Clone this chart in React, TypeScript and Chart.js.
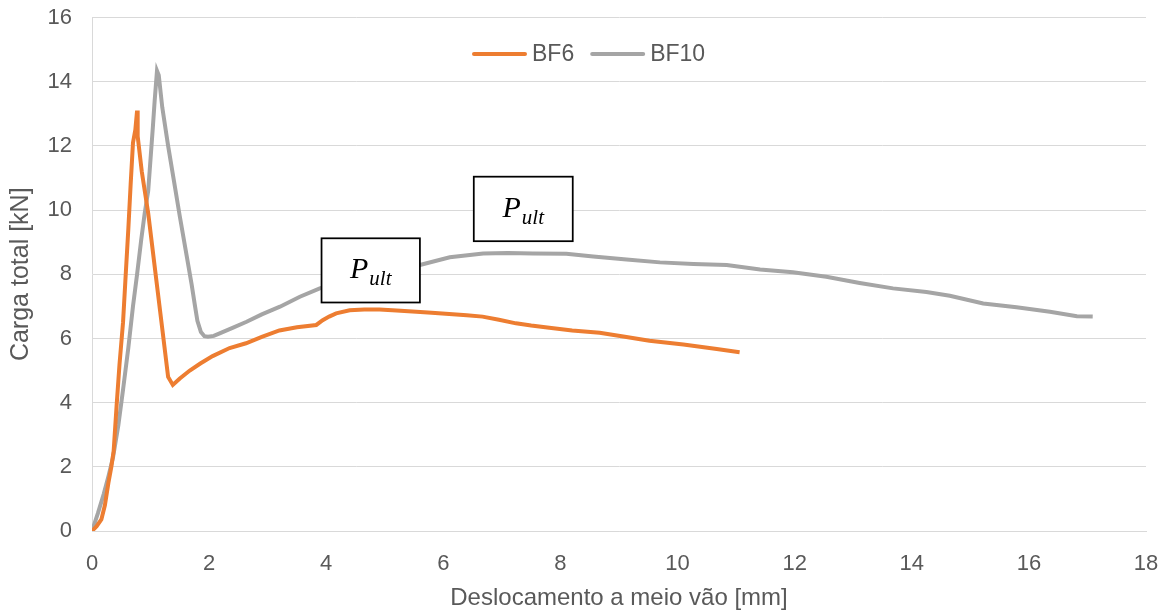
import React, { useEffect, useRef } from "react";
import { Chart, registerables } from "chart.js";

Chart.register(...registerables);

// ---- Data ----
const seriesNames = ["BF6", "BF10"];
const seriesColors = ["#ED7D31", "#A5A5A5"];

const bf6X = [
  0, 0.08, 0.16, 0.22, 0.28, 0.33, 0.37, 0.42, 0.47, 0.53, 0.57, 0.62, 0.66, 0.7, 0.74, 0.77, 0.78,
  0.85, 0.96, 1.1, 1.2, 1.3, 1.38, 1.5, 1.67, 1.85, 2.06, 2.35, 2.63, 2.9, 3.2, 3.5, 3.83, 3.94,
  4.05, 4.17, 4.4, 4.65, 4.91, 5.2, 5.54, 5.8, 6.1, 6.4, 6.67, 6.95, 7.24, 7.5, 7.81, 8.2, 8.67,
  9.1, 9.52, 10.1, 10.67, 11.06,
];
const bf6Y = [
  0, 0.15, 0.36, 0.8, 1.5, 2.0, 2.5, 3.9, 5.2, 6.5, 7.8, 9.4, 10.8, 12.1, 12.5, 13.1, 12.3,
  11.2, 9.9, 7.8, 6.3, 4.8, 4.55, 4.75, 5.0, 5.22, 5.45, 5.7, 5.85, 6.05, 6.25, 6.35, 6.42, 6.57,
  6.68, 6.78, 6.88, 6.9, 6.9, 6.87, 6.83, 6.8, 6.76, 6.72, 6.68, 6.58, 6.47, 6.4, 6.33, 6.25, 6.18,
  6.05, 5.93, 5.81, 5.67, 5.57,
];

const bf10X = [
  0, 0.1, 0.2, 0.28, 0.36, 0.45, 0.53, 0.62, 0.7, 0.77, 0.84, 0.9, 0.96, 1.0, 1.04, 1.07, 1.11,
  1.14, 1.2, 1.3, 1.4, 1.5, 1.6, 1.7, 1.76, 1.8, 1.86, 1.92, 1.98, 2.08, 2.18,
  2.4, 2.64, 2.9, 3.21, 3.55, 3.89, 4.3, 4.8, 5.2, 5.6, 6.11, 6.68, 7.1, 7.53, 8.1, 8.56, 9.13,
  9.7, 10.27, 10.84, 11.41, 11.97, 12.54, 13.11, 13.68, 14.25, 14.65, 15.22, 15.79, 16.36, 16.82,
  17.09,
];
const bf10Y = [
  0, 0.55, 1.15, 1.7, 2.3, 3.3, 4.4, 5.7, 7.0, 8.0, 9.07, 9.9, 10.6, 11.6, 12.6, 13.4, 14.34,
  14.2, 13.2, 12.0, 10.9, 9.8, 8.75, 7.7, 7.0, 6.55, 6.2, 6.07, 6.05, 6.08, 6.16,
  6.33, 6.52, 6.75, 6.99, 7.3, 7.56, 7.78, 8.0, 8.17, 8.29, 8.53, 8.65, 8.66, 8.65, 8.64, 8.55,
  8.46, 8.37, 8.32, 8.29, 8.15, 8.06, 7.92, 7.73, 7.56, 7.45, 7.33, 7.09, 6.97, 6.83, 6.69, 6.68,
];

const xTicks = [0, 2, 4, 6, 8, 10, 12, 14, 16, 18];
const yTicks = [0, 2, 4, 6, 8, 10, 12, 14, 16];
const xTitle = "Deslocamento a meio vão [mm]";
const yTitle = "Carga total [kN]";

// annotation text "P" with subscript "ult"
const annotationMain = "P";
const annotationSub = "ult";
// annotation boxes, corners in data units (x1, y1 top-left; x2, y2 bottom-right)
const annotationBoxes = [
  { x1: 3.92, y1: 9.12, x2: 5.6, y2: 7.12 },
  { x1: 6.52, y1: 11.04, x2: 8.21, y2: 9.03 },
];

const TEXT_COLOR = "#595959";
const GRID_COLOR = "#D9D9D9";
const FONT = "'Liberation Sans', Arial, sans-serif";

const toPoints = (xs: number[], ys: number[]) => xs.map((x, i) => ({ x, y: ys[i] }));

const overlayPlugin = {
  id: "overlay",
  afterDatasetsDraw(chart: any) {
    const { ctx, scales } = chart;
    const xs = scales.x;
    const ys = scales.y;
    ctx.save();
    // annotation boxes
    for (const b of annotationBoxes) {
      const left = xs.getPixelForValue(b.x1);
      const right = xs.getPixelForValue(b.x2);
      const top = ys.getPixelForValue(b.y1);
      const bottom = ys.getPixelForValue(b.y2);
      ctx.fillStyle = "#FFFFFF";
      ctx.fillRect(left, top, right - left, bottom - top);
      ctx.strokeStyle = "#000000";
      ctx.lineWidth = 1.75;
      ctx.strokeRect(left, top, right - left, bottom - top);
      const mainFont = "italic 30px 'Liberation Serif', 'DejaVu Serif', serif";
      const subFont = "italic 21px 'Liberation Serif', 'DejaVu Serif', serif";
      ctx.font = mainFont;
      const wMain = ctx.measureText(annotationMain).width;
      ctx.font = subFont;
      const wSub = ctx.measureText(annotationSub).width;
      const total = wMain + 1 + wSub;
      const cx = (left + right) / 2;
      const startX = cx - total / 2;
      ctx.fillStyle = "#000000";
      ctx.textBaseline = "alphabetic";
      ctx.textAlign = "left";
      ctx.font = mainFont;
      ctx.fillText(annotationMain, startX, top + 40);
      ctx.font = subFont;
      ctx.fillText(annotationSub, startX + wMain + 1, top + 47);
    }
    // legend
    ctx.font = `23px ${FONT}`;
    ctx.textBaseline = "middle";
    ctx.textAlign = "left";
    const legendY = 54;
    let lx = 472;
    seriesNames.forEach((name, i) => {
      ctx.strokeStyle = seriesColors[i];
      ctx.lineWidth = 4;
      ctx.lineCap = "round";
      ctx.beginPath();
      ctx.moveTo(lx + 2, legendY);
      ctx.lineTo(lx + 53, legendY);
      ctx.stroke();
      ctx.fillStyle = TEXT_COLOR;
      ctx.fillText(name, lx + 60, legendY + 1);
      lx += 60 + ctx.measureText(name).width + 16;
    });
    ctx.restore();
  },
};

export default function App() {
  const canvasRef = useRef<HTMLCanvasElement | null>(null);

  useEffect(() => {
    document.body.style.margin = "0";
    const canvas = canvasRef.current;
    if (!canvas) return;
    const chart = new Chart(canvas, {
      type: "scatter",
      data: {
        datasets: [
          {
            label: seriesNames[0],
            data: toPoints(bf6X, bf6Y),
            borderColor: seriesColors[0],
            backgroundColor: seriesColors[0],
            showLine: true,
            pointRadius: 0,
            borderWidth: 4,
            tension: 0,
          },
          {
            label: seriesNames[1],
            data: toPoints(bf10X, bf10Y),
            borderColor: seriesColors[1],
            backgroundColor: seriesColors[1],
            showLine: true,
            pointRadius: 0,
            borderWidth: 4,
            tension: 0,
          },
        ],
      },
      options: {
        responsive: false,
        animation: false,
        devicePixelRatio: 1,
        layout: { padding: { top: 17.5, right: 20, bottom: 0, left: 0 } },
        plugins: {
          legend: { display: false },
          tooltip: { enabled: false },
        },
        scales: {
          x: {
            type: "linear",
            min: xTicks[0],
            max: xTicks[xTicks.length - 1],
            afterBuildTicks: (scale: any) => {
              scale.ticks = xTicks.map((v) => ({ value: v }));
            },
            afterFit: (scale: any) => {
              scale.height = 80;
              scale.paddingLeft = 0;
              scale.paddingRight = 0;
            },
            grid: { display: false, drawTicks: false },
            border: { display: true, color: GRID_COLOR, width: 1 },
            ticks: {
              color: TEXT_COLOR,
              font: { family: FONT, size: 22 },
              padding: 20,
              maxRotation: 0,
            },
            title: {
              display: true,
              text: xTitle,
              color: TEXT_COLOR,
              font: { family: FONT, size: 24, lineHeight: 1 },
              padding: { top: 0, bottom: 1 },
            },
          },
          y: {
            type: "linear",
            min: yTicks[0],
            max: yTicks[yTicks.length - 1],
            afterBuildTicks: (scale: any) => {
              scale.ticks = yTicks.map((v) => ({ value: v }));
            },
            afterFit: (scale: any) => {
              scale.width = 92;
              scale.paddingTop = 0;
              scale.paddingBottom = 0;
            },
            grid: { color: GRID_COLOR, lineWidth: 1, drawTicks: false },
            border: { display: true, color: GRID_COLOR, width: 1 },
            ticks: {
              color: TEXT_COLOR,
              font: { family: FONT, size: 22 },
              padding: 20,
            },
            title: {
              display: true,
              text: yTitle,
              color: TEXT_COLOR,
              font: { family: FONT, size: 25, lineHeight: 1 },
              padding: { top: 8.5, bottom: 0 },
            },
          },
        },
      },
      plugins: [overlayPlugin],
    });
    return () => chart.destroy();
  }, []);

  return (
    <div style={{ width: 1166, height: 611 }}>
      <canvas ref={canvasRef} width={1166} height={611} style={{ display: "block", width: 1166, height: 611 }} />
    </div>
  );
}
